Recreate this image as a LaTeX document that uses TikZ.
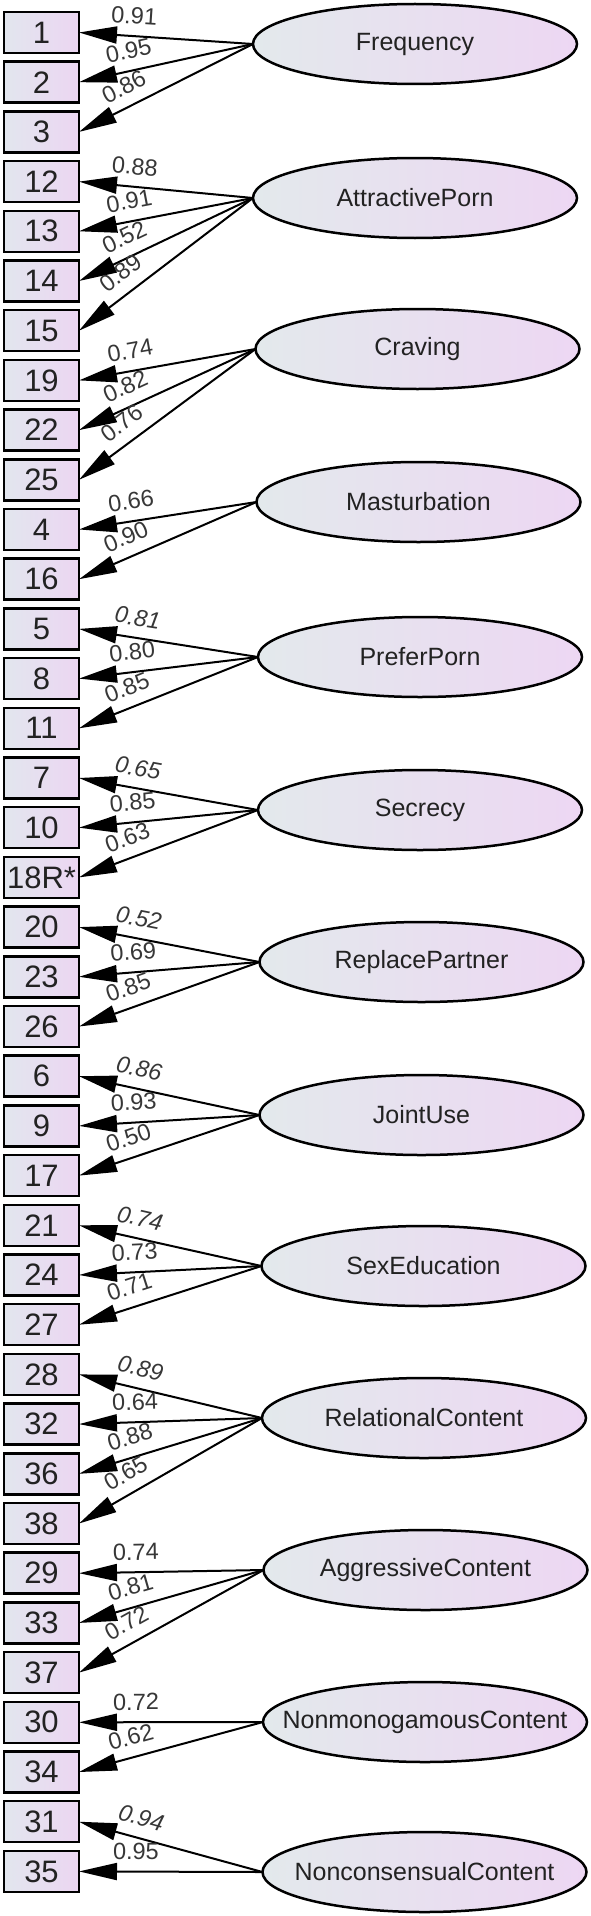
\documentclass[tikz,border=0pt]{standalone}
\usepackage{fontspec}
\setmainfont{Liberation Sans}
\usetikzlibrary{shapes.geometric,arrows.meta}
\definecolor{boxl}{RGB}{226,230,238}
\definecolor{boxr}{RGB}{236,214,242}
\definecolor{ell}{RGB}{227,233,236}
\definecolor{elr}{RGB}{237,215,243}
\definecolor{txt}{RGB}{34,34,34}
\definecolor{labc}{RGB}{55,55,55}
\tikzset{
  obs/.style={draw=black, line width=2.5pt, rectangle, minimum width=75pt, minimum height=41pt,
    inner sep=0pt, outer sep=0pt, left color=boxl, right color=boxr,
    font=\fontsize{31}{31}\selectfont, text=txt},
  lat/.style={draw=black, ellipse, line width=2.5pt, minimum width=324pt, minimum height=80pt,
    inner sep=0pt, outer sep=0pt, left color=ell, right color=elr,
    font=\fontsize{25}{25}\selectfont, text=txt},
  ldr/.style={line width=2pt, -{Triangle[length=38pt,width=17pt]}},
  lab/.style={sloped, pos=0.69, anchor=south, inner xsep=0pt, inner ysep=11pt,
    font=\fontsize{23.5}{23.5}\selectfont, text=labc}
}
\newcommand\lnk[3]{\draw[ldr] (#1.west) -- node[lab]{#3} (b#2.east);}
\newcommand\lt[1]{\makebox[0pt][c]{#1}}
\begin{document}
\begin{tikzpicture}[x=1pt,y=-1pt]
\useasboundingbox (0,0) rectangle (590,1916);
% latent variables
\node[lat] (F)  at (415,44)     {\lt{Frequency}};
\node[lat] (AP) at (415,198)    {\lt{AttractivePorn}};
\node[lat] (CR) at (417.5,349)  {\lt{Craving}};
\node[lat] (MA) at (418.5,502)  {\lt{Masturbation}};
\node[lat] (PP) at (420,657)    {\lt{PreferPorn}};
\node[lat] (SE) at (420,810)    {\lt{Secrecy}};
\node[lat] (RP) at (421.5,962)  {\lt{ReplacePartner}};
\node[lat] (JU) at (421.5,1115) {\lt{JointUse}};
\node[lat] (SX) at (423.5,1266) {\lt{SexEducation}};
\node[lat] (RC) at (424,1418)   {\lt{RelationalContent}};
\node[lat] (AC) at (425.5,1570) {\lt{AggressiveContent}};
\node[lat] (NM) at (425,1722)   {\lt{NonmonogamousContent}};
\node[lat] (NC) at (424.5,1872) {\lt{NonconsensualContent}};
% observed variables
\node[obs] (b0)  at (41.5,32.5)   {1};
\node[obs] (b1)  at (41.5,82.2)   {2};
\node[obs] (b2)  at (41.5,131.9)  {3};
\node[obs] (b3)  at (41.5,181.6)  {12};
\node[obs] (b4)  at (41.5,231.3)  {13};
\node[obs] (b5)  at (41.5,281.0)  {14};
\node[obs] (b6)  at (41.5,330.7)  {15};
\node[obs] (b7)  at (41.5,380.4)  {19};
\node[obs] (b8)  at (41.5,430.1)  {22};
\node[obs] (b9)  at (41.5,479.8)  {25};
\node[obs] (b10) at (41.5,529.5)  {4};
\node[obs] (b11) at (41.5,579.2)  {16};
\node[obs] (b12) at (41.5,628.9)  {5};
\node[obs] (b13) at (41.5,678.6)  {8};
\node[obs] (b14) at (41.5,728.3)  {11};
\node[obs] (b15) at (41.5,778.0)  {7};
\node[obs] (b16) at (41.5,827.7)  {10};
\node[obs] (b17) at (41.5,877.4)  {18R*};
\node[obs] (b18) at (41.5,927.1)  {20};
\node[obs] (b19) at (41.5,976.8)  {23};
\node[obs] (b20) at (41.5,1026.5) {26};
\node[obs] (b21) at (41.5,1076.2) {6};
\node[obs] (b22) at (41.5,1125.9) {9};
\node[obs] (b23) at (41.5,1175.6) {17};
\node[obs] (b24) at (41.5,1225.3) {21};
\node[obs] (b25) at (41.5,1275.0) {24};
\node[obs] (b26) at (41.5,1324.7) {27};
\node[obs] (b27) at (41.5,1374.4) {28};
\node[obs] (b28) at (41.5,1424.1) {32};
\node[obs] (b29) at (41.5,1473.8) {36};
\node[obs] (b30) at (41.5,1523.5) {38};
\node[obs] (b31) at (41.5,1573.2) {29};
\node[obs] (b32) at (41.5,1622.9) {33};
\node[obs] (b33) at (41.5,1672.6) {37};
\node[obs] (b34) at (41.5,1722.3) {30};
\node[obs] (b35) at (41.5,1772.0) {34};
\node[obs] (b36) at (41.5,1821.7) {31};
\node[obs] (b37) at (41.5,1871.4) {35};
% loadings
\lnk{F}{0}{0.91}
\lnk{F}{1}{0.95}
\lnk{F}{2}{0.86}
\lnk{AP}{3}{0.88}
\lnk{AP}{4}{0.91}
\lnk{AP}{5}{0.52}
\lnk{AP}{6}{0.89}
\lnk{CR}{7}{0.74}
\lnk{CR}{8}{0.82}
\lnk{CR}{9}{0.76}
\lnk{MA}{10}{0.66}
\lnk{MA}{11}{0.90}
\lnk{PP}{12}{\itshape 0.81}
\lnk{PP}{13}{0.80}
\lnk{PP}{14}{0.85}
\lnk{SE}{15}{\itshape 0.65}
\lnk{SE}{16}{0.85}
\lnk{SE}{17}{0.63}
\lnk{RP}{18}{\itshape 0.52}
\lnk{RP}{19}{0.69}
\lnk{RP}{20}{0.85}
\lnk{JU}{21}{\itshape 0.86}
\lnk{JU}{22}{0.93}
\lnk{JU}{23}{0.50}
\lnk{SX}{24}{\itshape 0.74}
\lnk{SX}{25}{0.73}
\lnk{SX}{26}{0.71}
\lnk{RC}{27}{\itshape 0.89}
\lnk{RC}{28}{0.64}
\lnk{RC}{29}{0.88}
\lnk{RC}{30}{0.65}
\lnk{AC}{31}{0.74}
\lnk{AC}{32}{0.81}
\lnk{AC}{33}{0.72}
\lnk{NM}{34}{0.72}
\lnk{NM}{35}{0.62}
\lnk{NC}{36}{\itshape 0.94}
\lnk{NC}{37}{0.95}
\end{tikzpicture}
\end{document}
